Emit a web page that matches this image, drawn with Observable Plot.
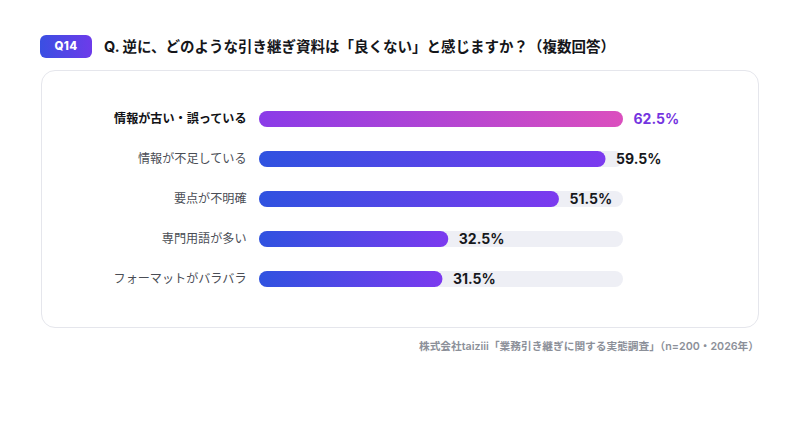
<!DOCTYPE html>
<html><head><meta charset="utf-8">
<script src="https://cdn.jsdelivr.net/npm/d3@7"></script>
<script src="https://cdn.jsdelivr.net/npm/@observablehq/plot@0.6"></script>
<style>
html,body{margin:0;padding:0;background:#fff;width:800px;height:436px;overflow:hidden;font-family:Inter,"Noto Sans CJK JP",sans-serif;}
#badge{position:absolute;left:40px;top:35px;width:52px;height:23px;border-radius:6px;background:linear-gradient(90deg,#3A4FE2,#6D3BEA);color:#fff;font-weight:800;font-size:11.5px;line-height:23px;text-align:center;letter-spacing:0.3px;}
#title{position:absolute;left:104px;top:36px;font-size:14.5px;font-weight:700;color:#15161a;line-height:22px;white-space:nowrap;}
#card{position:absolute;left:41px;top:70px;width:716px;height:256px;border:1px solid #E5E6EC;border-radius:14px;}
#chart{position:absolute;left:0;top:95px;}
#caption{position:absolute;right:41px;top:339px;font-size:10.7px;font-weight:600;color:#8C9099;white-space:nowrap;line-height:16px;}
</style></head>
<body>
<div id="badge">Q14</div>
<div id="title">Q. 逆に、どのような引き継ぎ資料は「良くない」と感じますか？（複数回答）</div>
<div id="card"></div>
<div id="chart"></div>
<div id="caption">株式会社taiziii「業務引き継ぎに関する実態調査」（n=200・2026年）</div>
<script>
const categories = ["情報が古い・誤っている","情報が不足している","要点が不明確","専門用語が多い","フォーマットがバラバラ"];
const values = [62.5, 59.5, 51.5, 32.5, 31.5];
const valueLabels = ["62.5%","59.5%","51.5%","32.5%","31.5%"];

const data = categories.map((c,i)=>({category:c, value:values[i], label:valueLabels[i], top:i===0}));
const maxV = d3.max(values);
const font = 'Inter,"Noto Sans CJK JP",sans-serif';

const chart = Plot.plot({
  width: 800, height: 210,
  marginLeft: 259, marginRight: 177, marginTop: 4, marginBottom: 6,
  style: {fontFamily: font, background: "transparent", overflow: "visible"},
  x: {domain: [0, maxV], axis: null},
  y: {domain: categories, axis: null, padding: 0},
  marks: [
    Plot.barX(data, {x1: 0, x2: maxV, y: "category", fill: "#EEEFF5", rx: 8, insetTop: 12, insetBottom: 12}),
    Plot.barX(data.filter(d=>d.top), {x1: 0, x2: "value", y: "category", fill: "url(#gradTop)", rx: 8, insetTop: 12, insetBottom: 12}),
    Plot.barX(data.filter(d=>!d.top), {x1: 0, x2: "value", y: "category", fill: "url(#gradRest)", rx: 8, insetTop: 12, insetBottom: 12}),
    Plot.text(data.filter(d=>d.top), {y: "category", text: "category", frameAnchor: "left", textAnchor: "end", dx: -13, fontSize: 12.1, fontWeight: 700, fill: "#121317"}),
    Plot.text(data.filter(d=>!d.top), {y: "category", text: "category", frameAnchor: "left", textAnchor: "end", dx: -13, fontSize: 12.1, fontWeight: 400, fill: "#4A4D55"}),
    Plot.text(data.filter(d=>d.top), {x: "value", y: "category", text: "label", textAnchor: "start", dx: 10, fontSize: 14, fontWeight: 700, fill: "#7434E0"}),
    Plot.text(data.filter(d=>!d.top), {x: "value", y: "category", text: "label", textAnchor: "start", dx: 10, fontSize: 14, fontWeight: 700, fill: "#17181c"})
  ]
});

const ns = "http://www.w3.org/2000/svg";
const defs = document.createElementNS(ns, "defs");
function grad(id, a, b){
  const g = document.createElementNS(ns, "linearGradient");
  g.setAttribute("id", id);
  g.setAttribute("x1","0"); g.setAttribute("x2","1"); g.setAttribute("y1","0"); g.setAttribute("y2","0");
  [[0,a],[1,b]].forEach(([o,c])=>{
    const s = document.createElementNS(ns,"stop");
    s.setAttribute("offset", o); s.setAttribute("stop-color", c);
    g.appendChild(s);
  });
  defs.appendChild(g);
}
grad("gradTop", "#8A3BE8", "#DB4FBE");
grad("gradRest", "#2F52E0", "#7C3AEF");
chart.insertBefore(defs, chart.firstChild);
document.getElementById("chart").appendChild(chart);
</script>
</body></html>
